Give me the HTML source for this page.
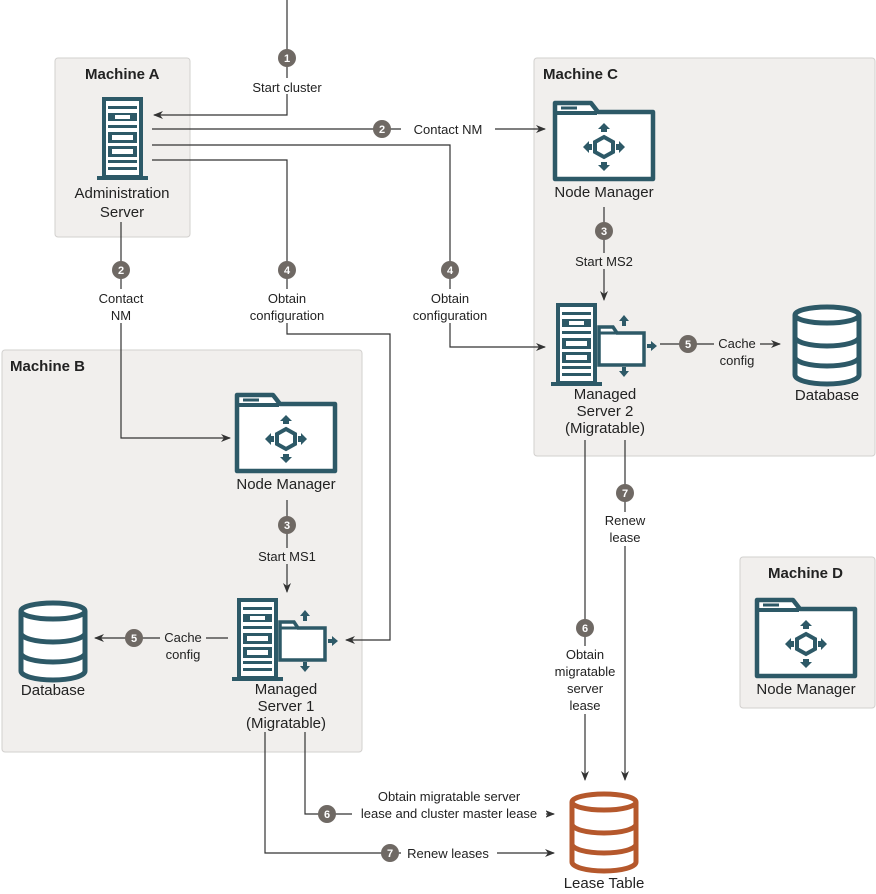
<!DOCTYPE html>
<html><head><meta charset="utf-8"><style>
body{margin:0;background:#fff}
svg{display:block;font-family:"Liberation Sans",sans-serif}
.t{font-size:13px;fill:#222;text-anchor:middle}
.n{font-size:15px;fill:#222;text-anchor:middle}
.h{font-size:15px;font-weight:bold;fill:#222}
.l{stroke:#333;stroke-width:1.2;fill:none}
</style></head><body>
<svg width="876" height="894" viewBox="0 0 876 894">
<defs>
<marker id="a" markerWidth="10" markerHeight="8" refX="9" refY="4" orient="auto" markerUnits="userSpaceOnUse"><path d="M0,0L10,4L0,8L3,4z" fill="#333"/></marker>
<g id="nm">
<path d="M2,2H38L45,11H100V78H2Z" fill="#fff" stroke="#2d5967" stroke-width="4.5" stroke-linejoin="round"/>
<line x1="2" y1="12" x2="44" y2="12" stroke="#2d5967" stroke-width="4"/>
<rect x="8" y="5.5" width="16" height="3" fill="#2d5967"/>
<polygon points="51,36 60,41 60,51 51,56 42,51 42,41" fill="none" stroke="#2d5967" stroke-width="4"/>
<path d="M51,22L57,28H45Z M51,70L57,64H45Z M30,46L36,40V52Z M72,46L66,40V52Z" fill="#2d5967"/>
<rect x="48" y="27" width="6" height="4" fill="#2d5967"/><rect x="48" y="61" width="6" height="4" fill="#2d5967"/>
<rect x="35" y="43" width="4" height="6" fill="#2d5967"/><rect x="63" y="43" width="4" height="6" fill="#2d5967"/>
</g>
<g id="srv">
<rect x="7" y="2" width="37" height="78" fill="#fff" stroke="#2d5967" stroke-width="4"/>
<rect x="0" y="79" width="51" height="4" fill="#2d5967"/>
<g fill="#2d5967"><rect x="11" y="9" width="29" height="3"/><rect x="11" y="16" width="29" height="8"/><rect x="11" y="28" width="29" height="3"/><rect x="11" y="35" width="29" height="11"/><rect x="11" y="49" width="29" height="11"/><rect x="11" y="63" width="29" height="3"/><rect x="11" y="70" width="29" height="3"/></g>
<rect x="18" y="18" width="15" height="4" fill="#fff"/><rect x="15" y="38" width="21" height="5" fill="#fff"/><rect x="15" y="52" width="21" height="5" fill="#fff"/>
</g>
<g id="ms">
<use href="#srv"/>
<path d="M48,24H62L66,30H93V62H48Z" fill="#fff" stroke="#2d5967" stroke-width="3.5"/>
<line x1="48" y1="30" x2="65" y2="30" stroke="#2d5967" stroke-width="3"/>
<path d="M73,12L78,18H68Z M73,74L78,68H68Z M106,43L100,38V48Z" fill="#2d5967"/>
<rect x="71" y="18" width="4" height="5" fill="#2d5967"/><rect x="71" y="64" width="4" height="5" fill="#2d5967"/><rect x="96" y="41" width="5" height="4" fill="#2d5967"/>
</g>
<g id="db">
<path d="M3,10V70A32,9 0 0 0 67,70V10" fill="#fff" stroke="currentColor" stroke-width="5"/>
<ellipse cx="35" cy="10" rx="32" ry="8" fill="#fff" stroke="currentColor" stroke-width="5"/>
<path d="M3,32A32,9 0 0 0 67,32M3,52A32,9 0 0 0 67,52" fill="none" stroke="currentColor" stroke-width="5"/>
</g>
<g id="b"><circle r="9" fill="#6f6964"/></g>
</defs>
<rect x="55" y="58" width="135" height="179" rx="3" fill="#f1efed" stroke="#d2d0ce"/>
<rect x="2" y="350" width="360" height="402" rx="3" fill="#f1efed" stroke="#d2d0ce"/>
<rect x="534" y="58" width="341" height="398" rx="3" fill="#f1efed" stroke="#d2d0ce"/>
<rect x="740" y="557" width="135" height="151" rx="3" fill="#f1efed" stroke="#d2d0ce"/>
<text class="h" x="85" y="79">Machine A</text>
<text class="h" x="10" y="371">Machine B</text>
<text class="h" x="543" y="79">Machine C</text>
<text class="h" x="768" y="578">Machine D</text>
<path class="l" d="M287,0V115H154" marker-end="url(#a)"/>
<path class="l" d="M152,129H545" marker-end="url(#a)"/>
<path class="l" d="M152,145H450V347H545" marker-end="url(#a)"/>
<path class="l" d="M152,160H287V334H390V640H346" marker-end="url(#a)"/>
<path class="l" d="M121,222V438H230" marker-end="url(#a)"/>
<path class="l" d="M604,207V300" marker-end="url(#a)"/>
<path class="l" d="M287,500V592" marker-end="url(#a)"/>
<path class="l" d="M660,344H780" marker-end="url(#a)"/>
<path class="l" d="M228,638H95" marker-end="url(#a)"/>
<path class="l" d="M585,440V780" marker-end="url(#a)"/>
<path class="l" d="M625,440V780" marker-end="url(#a)"/>
<path class="l" d="M305,732V814H554" marker-end="url(#a)"/>
<path class="l" d="M265,732V853H554" marker-end="url(#a)"/>
<g fill="#fff">
<rect x="246" y="78" width="82" height="16"/>
<rect x="401" y="120" width="94" height="18"/>
<rect x="95" y="289" width="52" height="34"/>
<rect x="262" y="289" width="70" height="34"/>
<rect x="405" y="289" width="90" height="34"/>
<rect x="352" y="788" width="194" height="32"/>
<rect x="401" y="845" width="96" height="16"/>
<rect x="548" y="646" width="74" height="68"/>
<rect x="605" y="512" width="40" height="34"/>
</g>
<g fill="#f1efed">
<rect x="568" y="253" width="72" height="16"/>
<rect x="250" y="548" width="76" height="16"/>
<rect x="714" y="334" width="46" height="34"/>
<rect x="160" y="628" width="46" height="34"/>
</g>
<text class="t" x="287" y="92">Start cluster</text>
<text class="t" x="448" y="134">Contact NM</text>
<text class="t" x="121" y="303">Contact</text><text class="t" x="121" y="320">NM</text>
<text class="t" x="287" y="303">Obtain</text><text class="t" x="287" y="320">configuration</text>
<text class="t" x="450" y="303">Obtain</text><text class="t" x="450" y="320">configuration</text>
<text class="t" x="604" y="266">Start MS2</text>
<text class="t" x="287" y="561">Start MS1</text>
<text class="t" x="737" y="348">Cache</text><text class="t" x="737" y="365">config</text>
<text class="t" x="183" y="642">Cache</text><text class="t" x="183" y="659">config</text>
<text class="t" x="625" y="525">Renew</text><text class="t" x="625" y="542">lease</text>
<text class="t" x="585" y="659">Obtain</text><text class="t" x="585" y="676">migratable</text><text class="t" x="585" y="693">server</text><text class="t" x="585" y="710">lease</text>
<text class="t" x="449" y="801">Obtain migratable server</text><text class="t" x="449" y="818">lease and cluster master lease</text>
<text class="t" x="448" y="858">Renew leases</text>
<g font-size="11" font-weight="bold" fill="#fff" text-anchor="middle">
<use href="#b" x="287" y="58"/><text x="287" y="62">1</text>
<use href="#b" x="382" y="129"/><text x="382" y="133">2</text>
<use href="#b" x="121" y="270"/><text x="121" y="274">2</text>
<use href="#b" x="287" y="270"/><text x="287" y="274">4</text>
<use href="#b" x="450" y="270"/><text x="450" y="274">4</text>
<use href="#b" x="604" y="231"/><text x="604" y="235">3</text>
<use href="#b" x="287" y="525"/><text x="287" y="529">3</text>
<use href="#b" x="688" y="344"/><text x="688" y="348">5</text>
<use href="#b" x="134" y="638"/><text x="134" y="642">5</text>
<use href="#b" x="625" y="493"/><text x="625" y="497">7</text>
<use href="#b" x="585" y="628"/><text x="585" y="632">6</text>
<use href="#b" x="327" y="814"/><text x="327" y="818">6</text>
<use href="#b" x="390" y="853"/><text x="390" y="857">7</text>
</g>
<use href="#srv" x="97" y="97"/>
<text class="n" x="122" y="198">Administration</text><text class="n" x="122" y="217">Server</text>
<use href="#nm" x="553" y="101"/><text class="n" x="604" y="197">Node Manager</text>
<use href="#nm" x="235" y="393"/><text class="n" x="286" y="489">Node Manager</text>
<use href="#nm" x="755" y="598"/><text class="n" x="806" y="694">Node Manager</text>
<use href="#ms" x="551" y="303"/>
<text class="n" x="605" y="399">Managed</text><text class="n" x="605" y="416">Server 2</text><text class="n" x="605" y="433">(Migratable)</text>
<use href="#ms" x="232" y="598"/>
<text class="n" x="286" y="694">Managed</text><text class="n" x="286" y="711">Server 1</text><text class="n" x="286" y="728">(Migratable)</text>
<use href="#db" x="792" y="305" style="color:#2d5967"/><text class="n" x="827" y="400">Database</text>
<use href="#db" x="18" y="601" style="color:#2d5967"/><text class="n" x="53" y="695">Database</text>
<use href="#db" x="569" y="792" style="color:#b5582c"/><text class="n" x="604" y="888">Lease Table</text>
</svg>
</body></html>
